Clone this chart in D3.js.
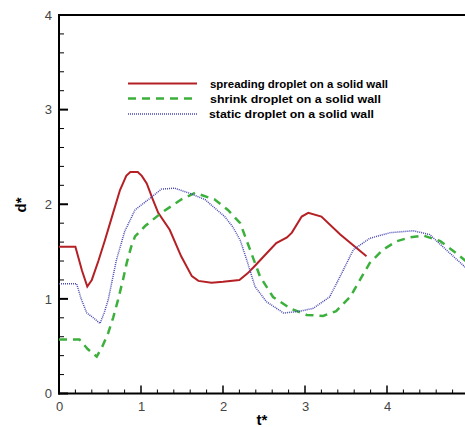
<!DOCTYPE html>
<html>
<head>
<meta charset="utf-8">
<script src="https://cdn.jsdelivr.net/npm/d3@7"></script>
<style>
  body { margin: 0; background: #fff; }
  text { font-family: "Liberation Sans", Arial, sans-serif; }
</style>
</head>
<body>
<div id="chart"></div>
<script>
// series: [t*, d*]
var spreading = [
  [0, 1.55], [0.2, 1.55], [0.28, 1.3], [0.345, 1.13], [0.4, 1.2], [0.48, 1.4], [0.56, 1.62],
  [0.65, 1.88], [0.744, 2.15], [0.82, 2.3], [0.87, 2.34], [0.96, 2.34], [1.01, 2.3],
  [1.07, 2.22], [1.14, 2.06], [1.21, 1.91], [1.35, 1.73], [1.49, 1.45], [1.62, 1.24],
  [1.7, 1.19], [1.86, 1.17], [2.0, 1.18], [2.2, 1.2], [2.3, 1.27], [2.39, 1.35],
  [2.53, 1.48], [2.65, 1.59], [2.78, 1.65], [2.84, 1.7], [2.96, 1.87], [3.04, 1.91],
  [3.2, 1.87], [3.43, 1.68], [3.61, 1.55], [3.75, 1.45]
];
var shrink = [
  [0, 0.57], [0.25, 0.57], [0.35, 0.47], [0.46, 0.39], [0.53, 0.5], [0.6, 0.64],
  [0.66, 0.8], [0.72, 0.99], [0.78, 1.2], [0.826, 1.38], [0.88, 1.55], [0.927, 1.66],
  [1.05, 1.77], [1.25, 1.91], [1.49, 2.05], [1.66, 2.12], [1.9, 2.05], [2.06, 1.94],
  [2.21, 1.8], [2.33, 1.52], [2.45, 1.24], [2.61, 1.02], [2.82, 0.9], [3.02, 0.83],
  [3.22, 0.82], [3.38, 0.87], [3.55, 1.02], [3.67, 1.2], [3.79, 1.38], [3.95, 1.52],
  [4.12, 1.61], [4.28, 1.65], [4.44, 1.67], [4.65, 1.61], [4.85, 1.48], [4.96, 1.4]
];
var staticDrop = [
  [0, 1.16], [0.215, 1.16], [0.27, 1.0], [0.34, 0.85], [0.42, 0.8], [0.5, 0.74],
  [0.55, 0.85], [0.6, 0.99], [0.65, 1.2], [0.7, 1.41], [0.8, 1.71], [0.927, 1.94],
  [1.09, 2.05], [1.25, 2.16], [1.41, 2.17], [1.58, 2.12], [1.78, 2.05], [2.02, 1.87],
  [2.12, 1.76], [2.21, 1.62], [2.29, 1.41], [2.39, 1.13], [2.53, 0.97], [2.74, 0.85],
  [2.94, 0.87], [3.1, 0.9], [3.3, 1.02], [3.43, 1.24], [3.59, 1.52], [3.79, 1.64],
  [4.04, 1.7], [4.32, 1.72], [4.52, 1.68], [4.77, 1.48], [4.96, 1.33]
];
var xTicks = [0, 1, 2, 3, 4];
var yTicks = [0, 1, 2, 3, 4];
var legendLabels = [
  "spreading droplet on a solid wall",
  "shrink droplet on a solid wall",
  "static droplet on a solid wall"
];

var width = 465, height = 427;
var padLeft = 59, padTop = 15, padRight = 469, padBottom = 393.5;

var svg = d3.select("#chart").append("svg")
  .attr("width", width)
  .attr("height", height);

var x = d3.scaleLinear().domain([0, 5]).range([padLeft, padRight]);
var y = d3.scaleLinear().domain([0, 4]).range([padBottom, padTop]);

// top border
svg.append("line")
  .attr("x1", padLeft).attr("x2", width)
  .attr("y1", padTop).attr("y2", padTop)
  .attr("stroke", "#000").attr("stroke-width", 2);

// tick labels
var xAxis = d3.axisBottom(x)
  .tickValues(xTicks)
  .tickSize(0)
  .tickPadding(8)
  .tickFormat(d3.format("d"));
var gx = svg.append("g")
  .attr("transform", "translate(0," + padBottom + ")")
  .call(xAxis);
gx.select(".domain").remove();
gx.selectAll("text")
  .style("font-size", "13px")
  .attr("fill", "#444");

var yAxis = d3.axisLeft(y)
  .tickValues(yTicks)
  .tickSize(0)
  .tickPadding(7)
  .tickFormat(d3.format("d"));
var gy = svg.append("g")
  .attr("transform", "translate(" + padLeft + ",0)")
  .call(yAxis);
gy.select(".domain").remove();
gy.selectAll("text")
  .style("font-size", "13px")
  .attr("fill", "#444");

// inward ticks, minor every 0.2
var xMinor = d3.range(0, 25).map(function(i) { return i * 0.2; });
svg.append("g").selectAll("line")
  .data(xMinor)
  .join("line")
  .attr("x1", function(d) { return x(d); })
  .attr("x2", function(d) { return x(d); })
  .attr("y1", padBottom)
  .attr("y2", function(d, i) { return padBottom - (i % 5 === 0 ? 8 : 4); })
  .attr("stroke", "#000")
  .attr("stroke-width", function(d, i) { return i % 5 === 0 ? 1.5 : 1; });

var yMinor = d3.range(0, 21).map(function(i) { return i * 0.2; });
svg.append("g").selectAll("line")
  .data(yMinor)
  .join("line")
  .attr("x1", padLeft)
  .attr("x2", function(d, i) { return padLeft + (i % 5 === 0 ? 9 : 5); })
  .attr("y1", function(d) { return y(d); })
  .attr("y2", function(d) { return y(d); })
  .attr("stroke", "#000")
  .attr("stroke-width", function(d, i) { return i % 5 === 0 ? 2 : 1; });

svg.append("line")
  .attr("x1", padLeft).attr("x2", padLeft)
  .attr("y1", padTop - 1).attr("y2", padBottom + 1)
  .attr("stroke", "#000").attr("stroke-width", 2);
svg.append("line")
  .attr("x1", padLeft - 1).attr("x2", width)
  .attr("y1", padBottom).attr("y2", padBottom)
  .attr("stroke", "#000").attr("stroke-width", 2);

// axis titles
svg.append("text")
  .attr("x", 262).attr("y", 425)
  .attr("text-anchor", "middle")
  .style("font-size", "15px")
  .style("font-weight", "bold")
  .text("t*");

svg.append("text")
  .attr("transform", "translate(26,205) rotate(-90)")
  .attr("text-anchor", "middle")
  .style("font-size", "15px")
  .style("font-weight", "bold")
  .text("d*");

// curves
var line = d3.line()
  .x(function(d) { return x(d[0]); })
  .y(function(d) { return y(d[1]); });

var styles = [
  { color: "#b52025", width: 2, dash: null },
  { color: "#3cb03c", width: 2.5, dash: "8,6" },
  { color: "#4848b4", width: 1.5, dash: "1,1" }
];
var seriesList = [spreading, shrink, staticDrop];

seriesList.forEach(function(s, i) {
  svg.append("path")
    .datum(s)
    .attr("d", line)
    .attr("fill", "none")
    .attr("stroke", styles[i].color)
    .attr("stroke-width", styles[i].width)
    .attr("stroke-dasharray", styles[i].dash);
});

// legend
var legendY = [83.5, 98.5, 114];
var textLen = [178, 171, 165];
var legend = svg.append("g");
legendLabels.forEach(function(lab, i) {
  legend.append("line")
    .attr("x1", 128).attr("x2", 197)
    .attr("y1", legendY[i]).attr("y2", legendY[i])
    .attr("stroke", styles[i].color)
    .attr("stroke-width", styles[i].width)
    .attr("stroke-dasharray", styles[i].dash);
  legend.append("text")
    .attr("x", i === 2 ? 209 : 210)
    .attr("y", legendY[i] + 4)
    .style("font-size", "11px")
    .style("font-weight", "bold")
    .attr("textLength", textLen[i])
    .attr("lengthAdjust", "spacingAndGlyphs")
    .text(lab);
});
</script>
</body>
</html>
